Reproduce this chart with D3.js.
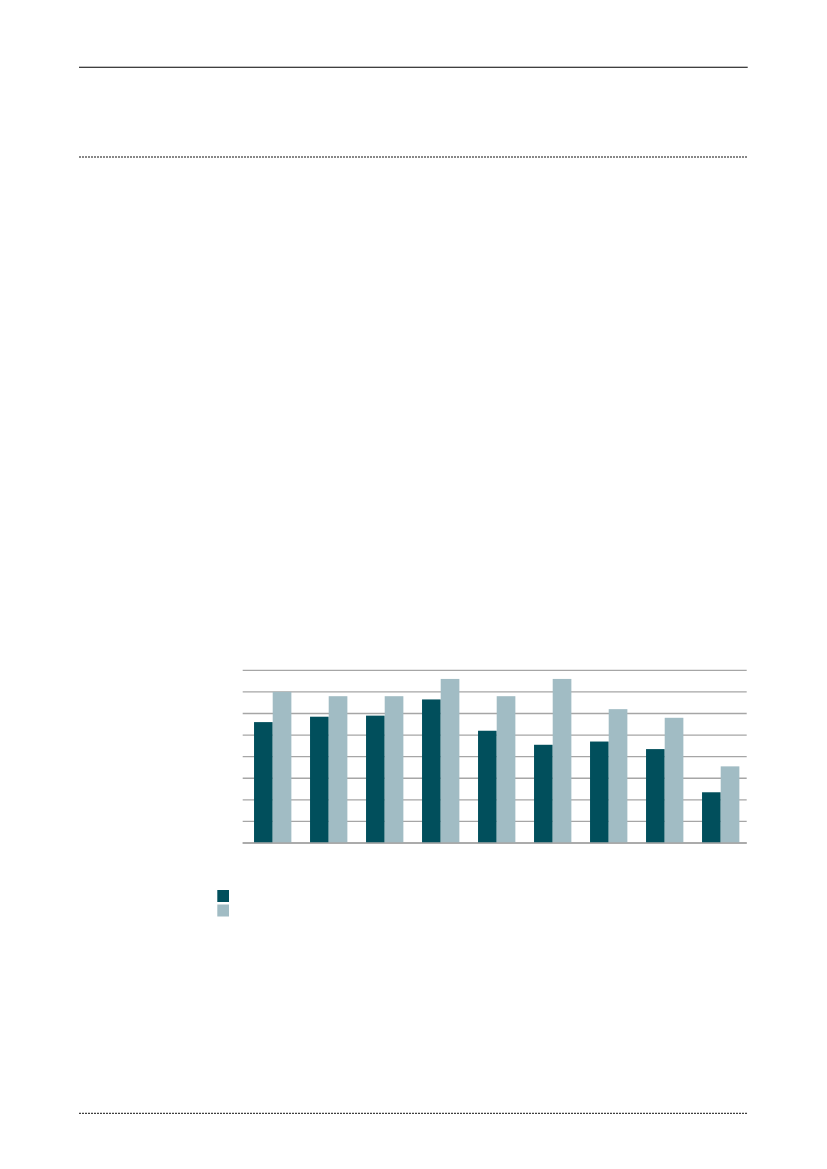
<!DOCTYPE html>
<html>
<head>
<meta charset="utf-8">
<script src="https://cdn.jsdelivr.net/npm/d3@7"></script>
<style>
  html, body { margin: 0; padding: 0; background: #fff; }
</style>
</head>
<body>
<div id="chart"></div>
<script>
// chart data (no labels are printed in the source picture)
var categories = ['1', '2', '3', '4', '5', '6', '7', '8', '9'];
var seriesNames = ['A', 'B'];
var seriesA = [56, 58.5, 59, 66.5, 52, 45.5, 47, 43.5, 23.5];
var seriesB = [70, 68, 68, 76, 68, 76, 62, 58, 35.5];
var yTicks = [0, 10, 20, 30, 40, 50, 60, 70, 80];

var colors = ['#014f5c', '#a1bcc4'];

var w = 827,
    h = 1169,
    plotLeft = 242.7,
    plotRight = 746.7,
    plotTop = 670.3,
    plotBottom = 843;

var svg = d3.select('#chart')
  .append('svg')
  .attr('width', w)
  .attr('height', h)
  .attr('viewBox', '0 0 ' + w + ' ' + h);

// page rules
svg.append('line')
  .attr('x1', 79).attr('x2', 747.7)
  .attr('y1', 67.3).attr('y2', 67.3)
  .attr('stroke', '#000').attr('stroke-width', 1.1);

[157, 1113.3].forEach(function(y) {
  svg.append('line')
    .attr('x1', 79).attr('x2', 747.7)
    .attr('y1', y).attr('y2', y)
    .attr('stroke', '#111').attr('stroke-width', 1)
    .attr('stroke-dasharray', '2,1');
});

var y = d3.scaleLinear()
  .domain([0, 80])
  .range([plotBottom, plotTop]);

var x0 = d3.scaleBand()
  .domain(categories)
  .range([244.7, 748.7])
  .paddingInner(1 / 3)
  .paddingOuter(1 / 6);

var x1 = d3.scaleBand()
  .domain(seriesNames)
  .range([0, x0.bandwidth()]);

// gridlines
svg.append('g')
  .selectAll('line')
  .data(yTicks)
  .enter()
  .append('line')
  .attr('x1', plotLeft)
  .attr('x2', plotRight)
  .attr('y1', function(d) { return y(d); })
  .attr('y2', function(d) { return y(d); })
  .attr('stroke', '#a6a6a6')
  .attr('stroke-width', 1.3);

var data = [];
for (var i = 0; i < categories.length; i++) {
  data.push({cat: categories[i], vals: [seriesA[i], seriesB[i]]});
}

svg.append('g')
  .selectAll('g')
  .data(data)
  .enter()
  .append('g')
  .attr('transform', function(d) {
    return 'translate(' + x0(d.cat) + ' 0)';
  })
  .selectAll('rect')
  .data(function(d) { return d.vals; })
  .enter()
  .append('rect')
  .attr('x', function(d, k) { return x1(seriesNames[k]); })
  .attr('y', function(d) { return y(d); })
  .attr('width', x1.bandwidth())
  .attr('height', function(d) { return y(0) - y(d); })
  .attr('fill', function(d, k) { return colors[k]; });

// baseline redrawn over bars
svg.append('line')
  .attr('x1', plotLeft).attr('x2', plotRight)
  .attr('y1', y(0)).attr('y2', y(0))
  .attr('stroke', '#a6a6a6').attr('stroke-width', 1.3);

// legend swatches
svg.append('g')
  .selectAll('rect')
  .data(seriesNames)
  .enter()
  .append('rect')
  .attr('x', 217.3)
  .attr('y', function(d, i) { return 890 + i * 14.5; })
  .attr('width', 11.7)
  .attr('height', 12)
  .attr('fill', function(d, i) { return colors[i]; });
</script>
</body>
</html>
